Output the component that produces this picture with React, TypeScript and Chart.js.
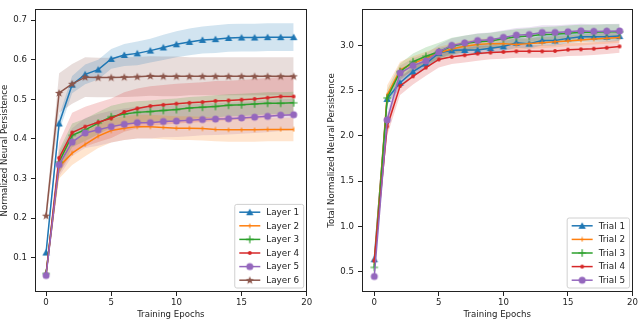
import React, { useEffect, useRef } from 'react';
import { Chart, registerables } from 'chart.js';

Chart.register(...registerables);

// ---------------- data ----------------
const epochs = [0, 1, 2, 3, 4, 5, 6, 7, 8, 9, 10, 11, 12, 13, 14, 15, 16, 17, 18, 19];
const xTicks = [0, 5, 10, 15, 20];
const leftYTicks = [0.1, 0.2, 0.3, 0.4, 0.5, 0.6, 0.7];
const rightYTicks = [0.5, 1.0, 1.5, 2.0, 2.5, 3.0];

const layerLabels = ['Layer 1', 'Layer 2', 'Layer 3', 'Layer 4', 'Layer 5', 'Layer 6'];
const layer1 = [0.113, 0.439, 0.537, 0.563, 0.575, 0.602, 0.612, 0.616, 0.623, 0.631, 0.639, 0.645, 0.650, 0.652, 0.655, 0.656, 0.656, 0.657, 0.657, 0.657];
const layer2 = [0.060, 0.330, 0.364, 0.386, 0.407, 0.421, 0.427, 0.431, 0.431, 0.429, 0.427, 0.427, 0.426, 0.424, 0.423, 0.423, 0.423, 0.424, 0.424, 0.424];
const layer3 = [0.060, 0.342, 0.409, 0.423, 0.440, 0.456, 0.463, 0.467, 0.469, 0.472, 0.474, 0.478, 0.480, 0.482, 0.485, 0.486, 0.488, 0.490, 0.490, 0.491];
const layer4 = [0.058, 0.352, 0.416, 0.431, 0.442, 0.452, 0.468, 0.477, 0.483, 0.486, 0.489, 0.491, 0.493, 0.496, 0.497, 0.499, 0.501, 0.504, 0.507, 0.507];
const layer5 = [0.055, 0.335, 0.392, 0.415, 0.423, 0.431, 0.437, 0.441, 0.441, 0.444, 0.445, 0.447, 0.449, 0.450, 0.451, 0.453, 0.455, 0.457, 0.460, 0.461];
const layer6 = [0.206, 0.516, 0.539, 0.556, 0.555, 0.555, 0.556, 0.557, 0.559, 0.558, 0.558, 0.558, 0.558, 0.558, 0.558, 0.558, 0.558, 0.558, 0.558, 0.558];

const layer1Std = [0.010, 0.020, 0.022, 0.025, 0.025, 0.025, 0.028, 0.030, 0.030, 0.032, 0.033, 0.034, 0.034, 0.035, 0.035, 0.035, 0.035, 0.035, 0.035, 0.035];
const layer2Std = [0.010, 0.030, 0.030, 0.030, 0.030, 0.030, 0.030, 0.030, 0.030, 0.030, 0.030, 0.030, 0.030, 0.030, 0.030, 0.030, 0.030, 0.030, 0.030, 0.030];
const layer3Std = [0.010, 0.030, 0.030, 0.028, 0.028, 0.028, 0.028, 0.028, 0.028, 0.028, 0.028, 0.028, 0.028, 0.028, 0.028, 0.028, 0.028, 0.028, 0.028, 0.028];
const layer4Std = [0.010, 0.040, 0.050, 0.050, 0.050, 0.050, 0.050, 0.050, 0.050, 0.050, 0.050, 0.050, 0.050, 0.050, 0.050, 0.050, 0.050, 0.050, 0.050, 0.050];
const layer5Std = [0.010, 0.030, 0.035, 0.038, 0.040, 0.040, 0.040, 0.040, 0.040, 0.040, 0.040, 0.040, 0.040, 0.040, 0.040, 0.040, 0.040, 0.040, 0.040, 0.040];
const layer6Std = [0.020, 0.050, 0.050, 0.050, 0.050, 0.050, 0.050, 0.050, 0.050, 0.050, 0.050, 0.048, 0.048, 0.048, 0.048, 0.048, 0.048, 0.048, 0.048, 0.048];

const trialLabels = ['Trial 1', 'Trial 2', 'Trial 3', 'Trial 4', 'Trial 5'];
const trial1 = [0.636, 2.409, 2.587, 2.710, 2.800, 2.915, 2.946, 2.950, 2.950, 2.970, 2.989, 3.030, 3.020, 3.054, 3.054, 3.078, 3.097, 3.097, 3.097, 3.103];
const trial2 = [0.600, 2.450, 2.730, 2.800, 2.860, 2.920, 2.960, 2.990, 3.010, 3.020, 3.020, 3.010, 3.020, 3.030, 3.040, 3.050, 3.060, 3.070, 3.080, 3.089];
const trial3 = [0.546, 2.420, 2.710, 2.820, 2.880, 2.930, 2.990, 3.020, 3.040, 3.050, 3.075, 3.095, 3.105, 3.120, 3.125, 3.135, 3.145, 3.145, 3.150, 3.150];
const trial4 = [0.620, 2.104, 2.552, 2.659, 2.756, 2.845, 2.874, 2.892, 2.910, 2.921, 2.928, 2.935, 2.935, 2.935, 2.939, 2.953, 2.957, 2.964, 2.975, 2.989];
const trial5 = [0.446, 2.176, 2.695, 2.778, 2.828, 2.928, 3.000, 3.028, 3.054, 3.064, 3.089, 3.114, 3.120, 3.143, 3.143, 3.151, 3.161, 3.155, 3.158, 3.160];

const trial1Std = [0.030, 0.060, 0.060, 0.060, 0.060, 0.055, 0.055, 0.055, 0.055, 0.055, 0.055, 0.055, 0.055, 0.055, 0.055, 0.055, 0.055, 0.055, 0.055, 0.055];
const trial2Std = [0.030, 0.110, 0.090, 0.080, 0.070, 0.065, 0.060, 0.060, 0.060, 0.060, 0.060, 0.060, 0.060, 0.060, 0.060, 0.060, 0.060, 0.060, 0.060, 0.060];
const trial3Std = [0.030, 0.090, 0.090, 0.090, 0.100, 0.100, 0.095, 0.090, 0.090, 0.090, 0.085, 0.085, 0.085, 0.085, 0.085, 0.085, 0.085, 0.085, 0.085, 0.085];
const trial4Std = [0.030, 0.100, 0.100, 0.090, 0.090, 0.090, 0.080, 0.080, 0.080, 0.075, 0.075, 0.070, 0.070, 0.070, 0.070, 0.070, 0.070, 0.070, 0.070, 0.070];
const trial5Std = [0.030, 0.080, 0.080, 0.080, 0.080, 0.080, 0.080, 0.080, 0.080, 0.080, 0.080, 0.080, 0.080, 0.080, 0.080, 0.080, 0.080, 0.080, 0.080, 0.080];

// ---------------- styles ----------------
const COLORS = ['#1f77b4', '#ff7f0e', '#2ca02c', '#d62728', '#9467bd', '#8c564b'];
const MARKERS = ['tri', 'tick', 'plus', 'dot', 'circle', 'star'];
const FONT = '"DejaVu Sans", sans-serif';
const TEXT = '#222222';
const TICK_SIZE = 8.6;

function rgba(hex: string, a: number) {
  const n = parseInt(hex.slice(1), 16);
  return `rgba(${(n >> 16) & 255},${(n >> 8) & 255},${n & 255},${a})`;
}

function makeMarker(kind: string, color: string): HTMLCanvasElement {
  const c = document.createElement('canvas');
  const size = kind === 'dot' || kind === 'tick' ? 6 : 10;
  c.width = size;
  c.height = size;
  const g = c.getContext('2d')!;
  g.fillStyle = color;
  g.strokeStyle = color;
  const m = size / 2;
  g.beginPath();
  if (kind === 'tri') {
    g.moveTo(m, m - 3.5);
    g.lineTo(m + 3.7, m + 2.9);
    g.lineTo(m - 3.7, m + 2.9);
    g.closePath();
    g.fill();
  } else if (kind === 'circle') {
    g.arc(m, m, 3.5, 0, Math.PI * 2);
    g.fill();
  } else if (kind === 'dot') {
    g.arc(m, m, 1.9, 0, Math.PI * 2);
    g.fill();
  } else if (kind === 'plus') {
    g.lineWidth = 1.2;
    g.moveTo(m - 3.8, m);
    g.lineTo(m + 3.8, m);
    g.moveTo(m, m - 3.8);
    g.lineTo(m, m + 3.8);
    g.stroke();
  } else if (kind === 'tick') {
    g.lineWidth = 1.1;
    g.moveTo(m, m - 2.3);
    g.lineTo(m, m + 2.3);
    g.stroke();
  } else if (kind === 'star') {
    for (let k = 0; k < 10; k++) {
      const r = k % 2 === 0 ? 4.4 : 1.8;
      const a = -Math.PI / 2 + (k * Math.PI) / 5;
      const px = m + r * Math.cos(a);
      const py = m + 0.3 + r * Math.sin(a);
      if (k === 0) g.moveTo(px, py);
      else g.lineTo(px, py);
    }
    g.closePath();
    g.fill();
  }
  return c;
}

type Item = { label: string; color: string; marker: HTMLCanvasElement };

function buildDatasets(means: number[][], stds: number[][], labels: string[], markers: HTMLCanvasElement[]) {
  const ds: any[] = [];
  means.forEach((m, i) => {
    const col = COLORS[i];
    ds.push({
      label: '_lo' + i,
      data: epochs.map((x, k) => ({ x, y: m[k] - stds[i][k] })),
      borderColor: 'transparent',
      borderWidth: 0,
      pointRadius: 0,
      fill: false,
      order: 30,
    });
    ds.push({
      label: '_hi' + i,
      data: epochs.map((x, k) => ({ x, y: m[k] + stds[i][k] })),
      borderColor: 'transparent',
      borderWidth: 0,
      pointRadius: 0,
      fill: '-1',
      backgroundColor: rgba(col, 0.2),
      order: 30,
    });
  });
  means.forEach((m, i) => {
    ds.push({
      label: labels[i],
      data: epochs.map((x, k) => ({ x, y: m[k] })),
      borderColor: COLORS[i],
      backgroundColor: COLORS[i],
      borderWidth: 1.5,
      pointStyle: markers[i],
      pointRadius: 3,
      pointHoverRadius: 3,
      fill: false,
      tension: 0,
      order: 10 - i,
    });
  });
  return ds;
}

const framePlugin = {
  id: 'frame',
  afterDatasetsDraw(chart: any) {
    const { ctx, chartArea: a } = chart;
    ctx.save();
    ctx.strokeStyle = '#222';
    ctx.lineWidth = 1;
    ctx.strokeRect(Math.round(a.left) + 0.5, Math.round(a.top) + 0.5, Math.round(a.right - a.left) - 1, Math.round(a.bottom - a.top) - 1);
    ctx.restore();
  },
};

function legendPlugin(items: Item[]) {
  return {
    id: 'boxLegend',
    afterDraw(chart: any) {
      const { ctx, chartArea: a } = chart;
      ctx.save();
      ctx.font = `8.8px ${FONT}`;
      const textW = Math.max(...items.map((it) => ctx.measureText(it.label).width));
      const pad = 4.5;
      const handle = 21;
      const gap = 6;
      const rowH = 13.6;
      const w = pad + handle + gap + textW + pad;
      const h = items.length * rowH + 2;
      const x0 = a.right - 3 - w;
      const y0 = a.bottom - 4 - h;
      ctx.beginPath();
      const r = 2;
      ctx.moveTo(x0 + r, y0);
      ctx.lineTo(x0 + w - r, y0);
      ctx.quadraticCurveTo(x0 + w, y0, x0 + w, y0 + r);
      ctx.lineTo(x0 + w, y0 + h - r);
      ctx.quadraticCurveTo(x0 + w, y0 + h, x0 + w - r, y0 + h);
      ctx.lineTo(x0 + r, y0 + h);
      ctx.quadraticCurveTo(x0, y0 + h, x0, y0 + h - r);
      ctx.lineTo(x0, y0 + r);
      ctx.quadraticCurveTo(x0, y0, x0 + r, y0);
      ctx.closePath();
      ctx.fillStyle = 'rgba(255,255,255,0.8)';
      ctx.fill();
      ctx.strokeStyle = '#d0d0d0';
      ctx.lineWidth = 1;
      ctx.stroke();
      items.forEach((it, i) => {
        const cy = y0 + 1 + rowH * (i + 0.5);
        const lx = x0 + pad;
        ctx.beginPath();
        ctx.strokeStyle = it.color;
        ctx.lineWidth = 1.5;
        ctx.moveTo(lx, cy);
        ctx.lineTo(lx + handle, cy);
        ctx.stroke();
        const mk = it.marker;
        ctx.drawImage(mk, lx + handle / 2 - mk.width / 2, cy - mk.height / 2);
        ctx.fillStyle = TEXT;
        ctx.textBaseline = 'middle';
        ctx.textAlign = 'left';
        ctx.fillText(it.label, lx + handle + gap, cy + 0.5);
      });
      ctx.restore();
    },
  };
}

function makeConfig(opts: {
  datasets: any[];
  items: Item[];
  xMin: number;
  yMin: number;
  yMax: number;
  yTicks: number[];
  yTitle: string;
  yAxisWidth: number;
  yTitlePad: number;
  padRight: number;
}): any {
  const tickFont = { family: FONT, size: TICK_SIZE };
  const titleFont = { family: FONT, size: TICK_SIZE, lineHeight: 1 };
  const grid = { drawOnChartArea: false, drawTicks: true, tickLength: 4, color: '#222', lineWidth: 1 };
  return {
    type: 'line',
    data: { datasets: opts.datasets },
    options: {
      animation: false,
      responsive: false,
      devicePixelRatio: 1,
      events: [],
      layout: { padding: { top: 1, right: opts.padRight, left: 0, bottom: 0 } },
      plugins: { legend: { display: false }, tooltip: { enabled: false } },
      scales: {
        x: {
          type: 'linear',
          min: opts.xMin,
          max: 20,
          afterBuildTicks: (ax: any) => {
            ax.ticks = xTicks.map((v) => ({ value: v }));
          },
          afterFit: (ax: any) => {
            ax.height = 29;
          },
          grid,
          border: { display: false },
          ticks: { color: TEXT, font: tickFont, padding: 2, maxRotation: 0, autoSkip: false, callback: (v: any) => String(v) },
          title: { display: true, text: 'Training Epochs', color: TEXT, font: titleFont, padding: { top: 0, bottom: 1.7 } },
        },
        y: {
          type: 'linear',
          min: opts.yMin,
          max: opts.yMax,
          afterBuildTicks: (ax: any) => {
            ax.ticks = opts.yTicks.map((v) => ({ value: v }));
          },
          afterFit: (ax: any) => {
            ax.width = opts.yAxisWidth;
          },
          grid,
          border: { display: false },
          ticks: { color: TEXT, font: tickFont, padding: 4, autoSkip: false, callback: (v: any) => Number(v).toFixed(1) },
          title: { display: true, text: opts.yTitle, color: TEXT, font: titleFont, padding: { top: opts.yTitlePad, bottom: 0 } },
        },
      },
    },
    plugins: [framePlugin, legendPlugin(opts.items)],
  };
}

export default function App() {
  const leftRef = useRef<HTMLCanvasElement>(null);
  const rightRef = useRef<HTMLCanvasElement>(null);

  useEffect(() => {
    const markers = MARKERS.map((k, i) => makeMarker(k, COLORS[i]));
    const leftMeans = [layer1, layer2, layer3, layer4, layer5, layer6];
    const leftStds = [layer1Std, layer2Std, layer3Std, layer4Std, layer5Std, layer6Std];
    const rightMeans = [trial1, trial2, trial3, trial4, trial5];
    const rightStds = [trial1Std, trial2Std, trial3Std, trial4Std, trial5Std];

    const c1 = new Chart(
      leftRef.current!,
      makeConfig({
        datasets: buildDatasets(leftMeans, leftStds, layerLabels, markers),
        items: layerLabels.map((l, i) => ({ label: l, color: COLORS[i], marker: markers[i] })),
        xMin: -0.85,
        yMin: 0.0133,
        yMax: 0.7277,
        yTicks: leftYTicks,
        yTitle: 'Normalized Neural Persistence',
        yAxisWidth: 35,
        yTitlePad: 0,
        padRight: 13.3,
      })
    );
    const c2 = new Chart(
      rightRef.current!,
      makeConfig({
        datasets: buildDatasets(rightMeans, rightStds, trialLabels, markers),
        items: trialLabels.map((l, i) => ({ label: l, color: COLORS[i], marker: markers[i] })),
        xMin: -0.95,
        yMin: 0.2744,
        yMax: 3.401,
        yTicks: rightYTicks,
        yTitle: 'Total Normalized Neural Persistence',
        yAxisWidth: 42,
        yTitlePad: 7,
        padRight: 6.5,
      })
    );
    return () => {
      c1.destroy();
      c2.destroy();
    };
  }, []);

  return (
    <div style={{ position: 'fixed', left: 0, top: 0, width: 640, height: 321, overflow: 'hidden', background: '#fff' }}>
      <canvas ref={leftRef} width={320} height={321} style={{ position: 'absolute', left: 0, top: 0, width: 320, height: 321 }} />
      <canvas ref={rightRef} width={320} height={321} style={{ position: 'absolute', left: 320, top: 0, width: 320, height: 321 }} />
    </div>
  );
}
